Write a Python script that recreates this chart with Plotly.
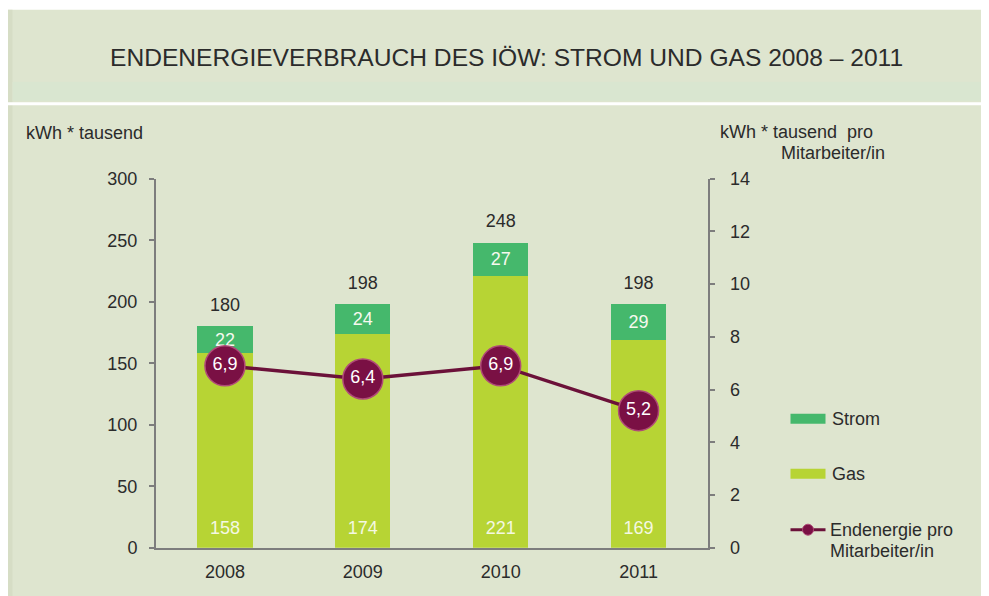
import plotly.graph_objects as go

# ---- data ----
years = ["2008", "2009", "2010", "2011"]
gas = [158, 174, 221, 169]
strom = [22, 24, 27, 29]
totals = [180, 198, 248, 198]
per_employee = [6.9, 6.4, 6.9, 5.2]
per_employee_labels = ["6,9", "6,4", "6,9", "5,2"]
left_ticks = [0, 50, 100, 150, 200, 250, 300]
right_ticks = [0, 2, 4, 6, 8, 10, 12, 14]

W, H = 989, 596
# observed placement of the paper area in the screenshot
OX, OY, PH = 7.5, 18.3, 576.0


def px(x):
    return (x - OX) / W


def py(y):
    return 1 - (y - OY) / PH


FONT = "Liberation Sans, Arial, sans-serif"
GAS_C = "#b7d434"
STROM_C = "#45b86c"
LINE_C = "#6b1139"
MARK_C = "#7a1044"
PANEL = "#dee5cf"
TXT = "#2b2b2b"
AX = "#7d7d7d"
FS = 18

fig = go.Figure()
fig.add_bar(
    x=years, y=gas, name="Gas", width=0.4,
    marker=dict(color=GAS_C, line_width=0),
    showlegend=False,
)
fig.add_bar(
    x=years, y=strom, name="Strom", width=0.4,
    marker=dict(color=STROM_C, line_width=0),
    text=[str(v) for v in strom], textposition="inside", insidetextanchor="middle",
    textangle=0, textfont=dict(color="#f6f9ef", size=FS, family=FONT),
    showlegend=False,
)
# gas values at the foot of each bar
fig.add_scatter(
    x=years, y=[0] * len(years), name="Gas-Werte", mode="markers+text",
    text=[str(v) for v in gas], textposition="top center",
    textfont=dict(color="#f4f8e2", size=FS, family=FONT),
    marker=dict(size=13, color="rgba(0,0,0,0)"),
    showlegend=False, hoverinfo="skip", cliponaxis=False,
)
# totals above the stacked bars
fig.add_scatter(
    x=years, y=totals, name="Summe", mode="markers+text",
    text=[str(v) for v in totals], textposition="top center",
    textfont=dict(color=TXT, size=FS, family=FONT),
    marker=dict(size=16, color="rgba(0,0,0,0)"),
    showlegend=False, hoverinfo="skip",
)
fig.add_scatter(
    x=years, y=per_employee, yaxis="y2", name="Endenergie pro Mitarbeiter/in",
    mode="lines+markers+text", text=per_employee_labels, textposition="middle center",
    textfont=dict(color="white", size=FS, family=FONT),
    line=dict(color=LINE_C, width=3.5),
    marker=dict(size=40, color=MARK_C, line=dict(color="#b04a78", width=1.5)),
    showlegend=False,
)

annotations = [
    dict(x=px(-2), y=py(9), xref="paper", yref="paper", text="eingegangen", showarrow=False,
         xanchor="left", yanchor="bottom", font=dict(size=24, color="#111111", family=FONT)),
    dict(x=px(506), y=py(58), xref="paper", yref="paper",
         text="ENDENERGIEVERBRAUCH DES IÖW: STROM UND GAS 2008 – 2011", showarrow=False,
         xanchor="center", yanchor="middle", font=dict(size=24.6, color=TXT, family=FONT)),
    dict(x=px(23), y=py(133), xref="paper", yref="paper", text="kWh * tausend", showarrow=False,
         xanchor="left", yanchor="middle", font=dict(size=FS, color=TXT, family=FONT)),
    dict(x=px(717), y=py(132), xref="paper", yref="paper", text="kWh * tausend  pro", showarrow=False,
         xanchor="left", yanchor="middle", font=dict(size=FS, color=TXT, family=FONT)),
    dict(x=px(778), y=py(153), xref="paper", yref="paper", text="Mitarbeiter/in", showarrow=False,
         xanchor="left", yanchor="middle", font=dict(size=FS, color=TXT, family=FONT)),
    dict(x=px(829), y=py(419), xref="paper", yref="paper", text="Strom", showarrow=False,
         xanchor="left", yanchor="middle", font=dict(size=FS, color=TXT, family=FONT)),
    dict(x=px(829), y=py(474), xref="paper", yref="paper", text="Gas", showarrow=False,
         xanchor="left", yanchor="middle", font=dict(size=FS, color=TXT, family=FONT)),
    dict(x=px(827), y=py(530), xref="paper", yref="paper", text="Endenergie pro", showarrow=False,
         xanchor="left", yanchor="middle", font=dict(size=FS, color=TXT, family=FONT)),
    dict(x=px(827), y=py(551), xref="paper", yref="paper", text="Mitarbeiter/in", showarrow=False,
         xanchor="left", yanchor="middle", font=dict(size=FS, color=TXT, family=FONT)),
]

shapes = [
    # panel
    dict(type="rect", xref="paper", yref="paper", x0=px(5), x1=px(1000), y0=py(600), y1=py(10),
         fillcolor=PANEL, line_width=0, layer="below"),
    dict(type="rect", xref="paper", yref="paper", x0=px(5), x1=px(12), y0=py(600), y1=py(10),
         fillcolor="#d6ddc5", line_width=0, layer="below"),
    # lighter band under the title
    dict(type="rect", xref="paper", yref="paper", x0=px(12), x1=px(1000), y0=py(101), y1=py(82),
         fillcolor="#d9e6d0", line_width=0, layer="below"),
    # white separator
    dict(type="line", xref="paper", yref="paper", x0=px(5), x1=px(1000), y0=py(104), y1=py(104),
         line=dict(color="white", width=3), layer="below"),
    # legend symbols
    dict(type="rect", xref="paper", yref="paper", x0=px(790), x1=px(825), y0=py(424), y1=py(414),
         fillcolor=STROM_C, line_width=0),
    dict(type="rect", xref="paper", yref="paper", x0=px(790), x1=px(825), y0=py(479), y1=py(469),
         fillcolor=GAS_C, line_width=0),
    dict(type="line", xref="paper", yref="paper", x0=px(790), x1=px(825), y0=py(530), y1=py(530),
         line=dict(color=LINE_C, width=3)),
    dict(type="circle", xref="paper", yref="paper", x0=px(802), x1=px(813), y0=py(535.5), y1=py(524.5),
         fillcolor=MARK_C, line=dict(color="#b04a78", width=1)),
]

fig.update_layout(
    width=W, height=H, margin=dict(l=0, r=0, t=0, b=0),
    paper_bgcolor="white", plot_bgcolor="rgba(0,0,0,0)",
    barmode="stack", bargap=0.6,
    font=dict(family=FONT, size=FS, color=TXT),
    uniformtext=dict(minsize=FS, mode="show"),
    xaxis=dict(domain=[px(155.5), px(707)], range=[-0.5, 3.5], type="category",
               showline=True, linecolor=AX, linewidth=2, ticks="outside", ticklen=7,
               tickcolor="rgba(0,0,0,0)", showgrid=False,
               tickfont=dict(size=FS, color=TXT), fixedrange=True),
    yaxis=dict(domain=[py(548), py(179)], range=[0, 300], tickvals=left_ticks,
               showline=True, linecolor=AX, linewidth=2, ticks="outside", ticklen=5,
               tickcolor=AX, tickwidth=1.5, showgrid=False, zeroline=False,
               tickfont=dict(size=FS, color=TXT), ticklabelstandoff=8),
    yaxis2=dict(overlaying="y", side="right", anchor="x", range=[0, 14], tickvals=right_ticks,
                showline=True, linecolor=AX, linewidth=2, ticks="outside", ticklen=5,
                tickcolor=AX, tickwidth=1.5, showgrid=False, zeroline=False,
                tickfont=dict(size=FS, color=TXT), ticklabelstandoff=12),
    annotations=annotations, shapes=shapes,
)

fig.write_html("out.html")
